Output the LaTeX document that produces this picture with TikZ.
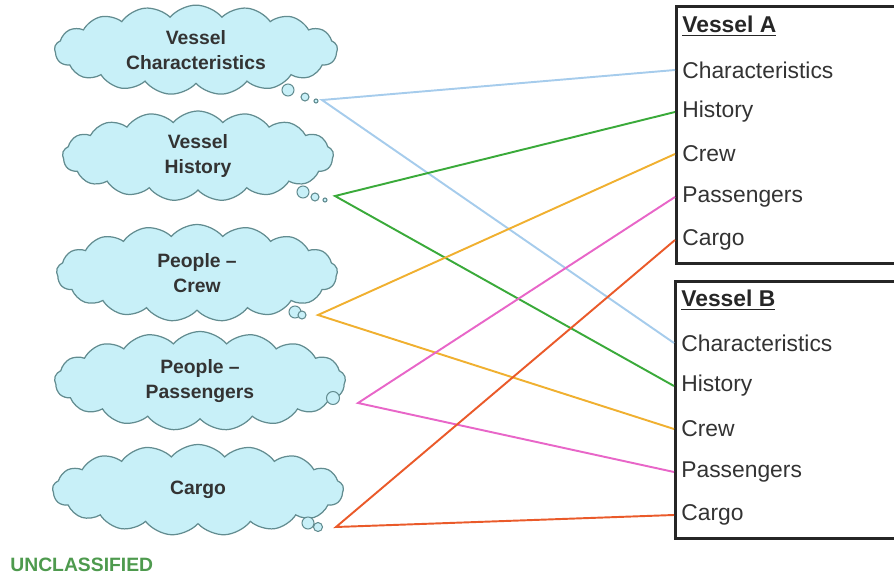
\documentclass[tikz,border=0pt]{standalone}
\usepackage{fontspec}
\setmainfont{Liberation Sans}
\usetikzlibrary{shapes.symbols}
\definecolor{cloudfill}{HTML}{C8F0F8}
\definecolor{cloudline}{HTML}{628C90}
\definecolor{lblue}{HTML}{A6CCEC}
\definecolor{lgreen}{HTML}{3AAA3A}
\definecolor{lorange}{HTML}{F0B030}
\definecolor{lpink}{HTML}{E866C8}
\definecolor{lred}{HTML}{EA5A2A}
\definecolor{unclass}{HTML}{4E9A4E}
\begin{document}
\begin{tikzpicture}[x=0.02cm, y=-0.02cm,
  thought/.style={cloud, cloud puffs=17, cloud puff arc=100, cloud ignores aspect, draw=cloudline, fill=cloudfill, line width=0.7pt, align=center, font=\fontsize{11}{14.5}\selectfont\bfseries, text=black!80},
  bubble/.style={circle, draw=cloudline, fill=cloudfill, line width=0.6pt, inner sep=0pt},
  vbox/.style={draw=black!85, line width=1.6pt, minimum width=250*0.02cm, anchor=north west, inner sep=0pt},
  head/.style={anchor=west, inner xsep=0.14cm, font=\fontsize{13}{15}\selectfont\bfseries, text=black!85},
  item/.style={anchor=west, inner xsep=0.14cm, font=\fontsize{13}{15}\selectfont, text=black!80},
  link/.style={line width=1.1pt}]
\useasboundingbox (0,0) rectangle (894,575);
\begin{scope}
\clip (0,0) rectangle (894,575);
% thought clouds
\node[thought, minimum width=283*0.02cm, minimum height=84*0.02cm] (cChar) at (196,50) {Vessel\\Characteristics};
\node[thought, minimum width=271*0.02cm, minimum height=90*0.02cm] (cHist) at (198,156) {Vessel\\History};
\node[thought, minimum width=281*0.02cm, minimum height=97*0.02cm] (cCrew) at (197,273) {People --\\Crew};
\node[thought, minimum width=291*0.02cm, minimum height=99*0.02cm] (cPass) at (200,381) {People --\\Passengers};
\node[thought, minimum width=291*0.02cm, minimum height=91*0.02cm] (cCargo) at (198,490) {Cargo};
% little bubbles
\node[bubble, minimum size=12*0.02cm] (b11) at (288,90) {};
\node[bubble, minimum size=8*0.02cm] (b12) at (305,97) {};
\node[bubble, minimum size=4*0.02cm] (b13) at (316,101) {};
\node[bubble, minimum size=12*0.02cm] (b21) at (303,192) {};
\node[bubble, minimum size=8*0.02cm] (b22) at (315,197) {};
\node[bubble, minimum size=4*0.02cm] (b23) at (325,200) {};
\node[bubble, minimum size=12*0.02cm] (b31) at (295,312) {};
\node[bubble, minimum size=8*0.02cm] (b32) at (302,315) {};
\node[bubble, minimum size=13*0.02cm] (b41) at (333,398) {};
\node[bubble, minimum size=12*0.02cm] (b51) at (308,523) {};
\node[bubble, minimum size=9*0.02cm] (b52) at (318,527) {};
% line starts
\coordinate (sChar) at (322,100);
\coordinate (sHist) at (335,196);
\coordinate (sCrew) at (318,315);
\coordinate (sPass) at (358,403);
\coordinate (sCargo) at (336,527);
% vessel boxes
\node[vbox, minimum height=257*0.02cm] (boxA) at (675,5) {};
\node[vbox, minimum height=257*0.02cm] (boxB) at (674,280) {};
\node[head] (hA) at (675,26) {\underline{Vessel A}};
\node[item] (aChar) at (675,70) {Characteristics};
\node[item] (aHist) at (675,112) {History};
\node[item] (aCrew) at (675,154) {Crew};
\node[item] (aPass) at (675,197) {Passengers};
\node[item] (aCargo) at (675,240) {Cargo};
\node[head] (hB) at (674,300) {\underline{Vessel B}};
\node[item] (bChar) at (674,343) {Characteristics};
\node[item] (bHist) at (674,386) {History};
\node[item] (bCrew) at (674,429) {Crew};
\node[item] (bPass) at (674,472) {Passengers};
\node[item] (bCargo) at (674,515) {Cargo};
% links
\draw[link, lblue] (aChar.west) -- (sChar) -- (bChar.west);
\draw[link, lgreen] (aHist.west) -- (sHist) -- (bHist.west);
\draw[link, lorange] (aCrew.west) -- (sCrew) -- (bCrew.west);
\draw[link, lpink] (aPass.west) -- (sPass) -- (bPass.west);
\draw[link, lred] (aCargo.west) -- (sCargo) -- (bCargo.west);
\end{scope}
\node[anchor=west, inner sep=0pt, font=\fontsize{11}{13}\selectfont\bfseries, text=unclass] (uncl) at (10,565) {UNCLASSIFIED};
\end{tikzpicture}
\end{document}
